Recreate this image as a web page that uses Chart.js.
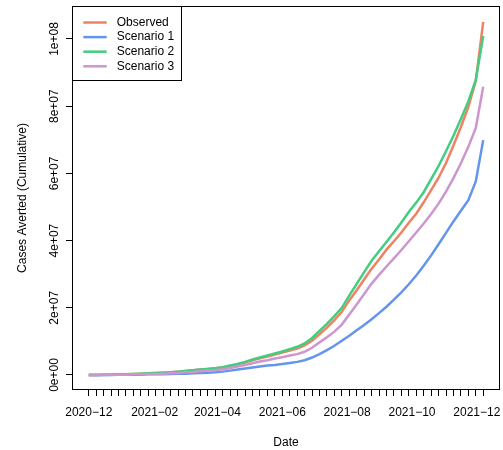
<!DOCTYPE html>
<html>
<head>
<meta charset="utf-8">
<script src="https://cdn.jsdelivr.net/npm/chart.js@4.4.0/dist/chart.umd.min.js"></script>
<style>
  html, body { margin: 0; padding: 0; background: #fff; }
</style>
</head>
<body>
<canvas id="chart" width="503" height="450"></canvas>
<script>
// weekly reporting dates
const dates = [
  "2020-12-01", "2020-12-08", "2020-12-15", "2020-12-22", "2020-12-29",
  "2021-01-05", "2021-01-12", "2021-01-19", "2021-01-26",
  "2021-02-02", "2021-02-09", "2021-02-16", "2021-02-23",
  "2021-03-02", "2021-03-09", "2021-03-16", "2021-03-23", "2021-03-30",
  "2021-04-06", "2021-04-13", "2021-04-20", "2021-04-27",
  "2021-05-04", "2021-05-11", "2021-05-18", "2021-05-25",
  "2021-06-01", "2021-06-08", "2021-06-15", "2021-06-22", "2021-06-29",
  "2021-07-06", "2021-07-13", "2021-07-20", "2021-07-27",
  "2021-08-03", "2021-08-10", "2021-08-17", "2021-08-24", "2021-08-31",
  "2021-09-07", "2021-09-14", "2021-09-21", "2021-09-28",
  "2021-10-05", "2021-10-12", "2021-10-19", "2021-10-26",
  "2021-11-02", "2021-11-09", "2021-11-16", "2021-11-23", "2021-11-30",
  "2021-12-07"
];

// cumulative cases averted, millions
const observed = [0, 0, 0.1, 0.1, 0.2, 0.2, 0.3, 0.4, 0.5, 0.6, 0.7, 0.8, 1.0, 1.2, 1.4, 1.6, 1.8, 2.0,
  2.2, 2.7, 3.2, 3.7, 4.4, 5.0, 5.5, 6.1, 6.7, 7.3, 7.9, 8.8, 10.2, 12.1, 14.1, 16.3, 18.8,
  22.2, 25.2, 28.4, 31.6, 34.4, 37.3, 39.8, 42.4, 45.3, 48.0, 51.4, 55.0, 58.7, 63.1, 68.3,
  73.8, 79.8, 87.5, 105.1];
const scenario1 = [0, 0, 0, 0, 0.1, 0.1, 0.1, 0.1, 0.2, 0.2, 0.2, 0.3, 0.4, 0.4, 0.5, 0.6, 0.7, 0.8,
  1.0, 1.3, 1.6, 1.9, 2.2, 2.5, 2.8, 3.0, 3.3, 3.6, 3.9, 4.4, 5.2, 6.2, 7.4, 8.7, 10.2,
  11.7, 13.3, 14.9, 16.6, 18.4, 20.3, 22.4, 24.6, 27.0, 29.6, 32.5, 35.6, 38.9, 42.3, 45.7,
  48.9, 52.0, 57.6, 69.9];
const scenario2 = [0, 0, 0.1, 0.1, 0.2, 0.2, 0.3, 0.4, 0.5, 0.6, 0.7, 0.8, 1.0, 1.2, 1.4, 1.6, 1.8, 2.0,
  2.3, 2.8, 3.3, 3.9, 4.6, 5.2, 5.8, 6.4, 7.0, 7.7, 8.4, 9.4, 11.0, 13.1, 15.2, 17.5, 20.0,
  23.6, 27.1, 30.6, 34.0, 36.8, 39.6, 42.4, 45.4, 48.5, 51.3, 54.4, 58.3, 62.2, 66.6, 71.2,
  76.2, 81.4, 87.8, 100.9];
const scenario3 = [0, 0, 0, 0.1, 0.1, 0.1, 0.2, 0.2, 0.3, 0.3, 0.4, 0.5, 0.6, 0.8, 0.9, 1.1, 1.3, 1.4,
  1.7, 2.1, 2.5, 3.0, 3.5, 4.0, 4.4, 4.9, 5.3, 5.8, 6.2, 6.9, 8.1, 9.7, 11.2, 12.9, 15.0,
  18.0, 21.0, 24.1, 27.2, 29.8, 32.3, 34.7, 37.2, 39.8, 42.4, 45.1, 47.9, 51.0, 54.6, 58.6,
  63.0, 67.9, 73.5, 85.8];

const monthLabels = ["2020-12", "2021-02", "2021-04", "2021-06", "2021-08", "2021-10", "2021-12"];
const yTicks = [0, 2e7, 4e7, 6e7, 8e7, 1e8];

const FONT = "'Liberation Sans', Arial, Helvetica, sans-serif";
Chart.defaults.font.family = FONT;
Chart.defaults.font.size = 12;
Chart.defaults.color = "#000";

const day = d => (Date.parse(d) - Date.parse(dates[0])) / 864e5;
const pts = arr => arr.map((v, i) => ({ x: day(dates[i]), y: v * 1e6 }));

function sci(v) {
  if (v === 0) return "0e+00";
  let e = Math.floor(Math.log10(v));
  let m = Math.round(v / Math.pow(10, e));
  return m + "e+" + String(e).padStart(2, "0");
}

// plot frame + legend box in the top left corner
const frameLegend = {
  id: "frameLegend",
  afterDraw(chart) {
    const { ctx, chartArea: a } = chart;
    ctx.save();
    ctx.strokeStyle = "#000";
    ctx.lineWidth = 1;
    ctx.strokeRect(a.left - 0.5, a.top - 0.5, a.right - a.left + 1, a.bottom - a.top + 1);

    const x0 = a.left - 0.5, y0 = a.top - 0.5;
    ctx.fillStyle = "#fff";
    ctx.fillRect(x0, y0, 109, 74);
    ctx.strokeRect(x0, y0, 109, 74);
    ctx.font = "12px " + FONT;
    ctx.textBaseline = "middle";
    chart.data.datasets.forEach((ds, i) => {
      let y = a.top + 15.5 + i * 14.6;
      ctx.strokeStyle = ds.borderColor;
      ctx.lineWidth = 2.5;
      ctx.beginPath();
      ctx.moveTo(a.left + 10.3, y);
      ctx.lineTo(a.left + 33.7, y);
      ctx.stroke();
      ctx.fillStyle = "#000";
      ctx.fillText(ds.label, a.left + 43.7, y);
    });
    ctx.restore();
  }
};

let config = {
  type: "line",
  data: {
    datasets: [
      { label: "Observed", data: pts(observed), borderColor: "#EE8262", order: 3 },
      { label: "Scenario 1", data: pts(scenario1), borderColor: "#6495ED", order: 2 },
      { label: "Scenario 2", data: pts(scenario2), borderColor: "#43CD80", order: 1 },
      { label: "Scenario 3", data: pts(scenario3), borderColor: "#CD96CD", order: 0 }
    ]
  },
  options: {
    responsive: false,
    animation: false,
    layout: { padding: { top: 7, right: 4, left: 0, bottom: 0 } },
    elements: {
      line: { borderWidth: 2.5, tension: 0, fill: false },
      point: { radius: 0 }
    },
    plugins: {
      legend: { display: false },
      tooltip: { enabled: false }
    },
    scales: {
      x: {
        type: "linear",
        min: -14.84,
        max: 385.84,
        afterBuildTicks: axis => {
          let t = dates.map(d => ({ value: day(d) }));
          monthLabels.forEach(m => t.push({ value: day(m + "-01"), txt: m.replace("-", "\u2212") }));
          t.sort((a, b) => a.value - b.value);
          axis.ticks = t;
        },
        afterFit: axis => {
          axis.height = 61;
          axis.paddingLeft = 0;
          axis.paddingRight = 0;
        },
        ticks: {
          autoSkip: false,
          maxRotation: 0,
          minRotation: 0,
          padding: 9.5,
          callback: (v, i, ticks) => ticks[i].txt || ""
        },
        grid: {
          drawOnChartArea: false,
          tickLength: 7,
          color: ctx => (ctx.tick && ctx.tick.txt ? "rgba(0,0,0,0)" : "#000")
        },
        border: { display: false },
        title: { display: true, text: "Date", padding: { top: 0, bottom: 0 } }
      },
      y: {
        min: -4.17e6,
        max: 1.0952e8,
        afterBuildTicks: axis => {
          axis.ticks = yTicks.map(v => ({ value: v }));
        },
        afterFit: axis => {
          axis.width = 73;
        },
        ticks: {
          minRotation: 90,
          maxRotation: 90,
          crossAlign: "center",
          padding: -5.5,
          callback: v => sci(v)
        },
        grid: {
          drawOnChartArea: false,
          tickLength: 7,
          color: "#000"
        },
        border: { display: false },
        title: { display: true, text: "Cases Averted (Cumulative)", padding: { top: 15.5, bottom: 0 } }
      }
    }
  },
  plugins: [frameLegend]
};

let chart = new Chart(document.getElementById("chart"), config);
</script>
</body>
</html>
